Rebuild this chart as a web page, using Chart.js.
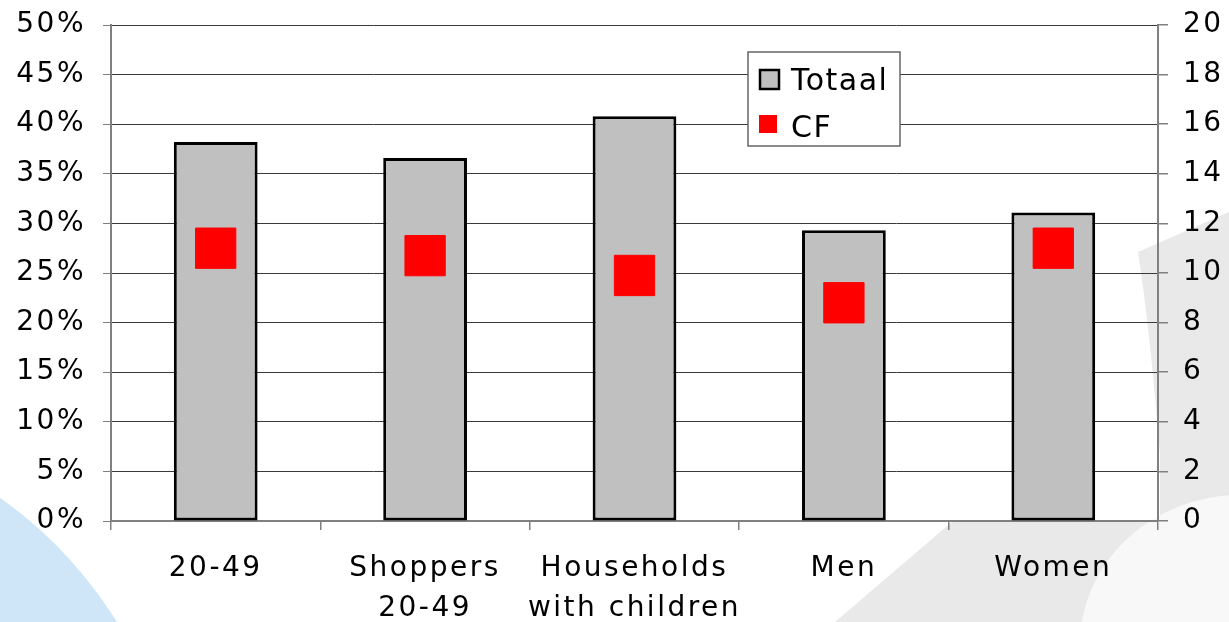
<!DOCTYPE html>
<html>
<head>
<meta charset="utf-8">
<script src="https://cdn.jsdelivr.net/npm/chart.js@4.4.1/dist/chart.umd.min.js"></script>
<style>
  html, body { margin: 0; padding: 0; background: #ffffff; }
  #wrap { width: 1229px; height: 622px; position: relative; }
</style>
</head>
<body>
<div id="wrap"><canvas id="chart" width="1229" height="622"></canvas></div>
<script>
// Categories (multi-line labels as arrays)
const categories = [['20-49'], ['Shoppers', '20-49'], ['Households', 'with children'], ['Men'], ['Women']];
// Share per group, in percent (left axis)
const totaal = [38.2, 36.6, 40.8, 29.3, 31.1];
// CF index per group (right axis)
const cf = [11.0, 10.7, 9.9, 8.8, 11.0];
// Axis ranges
const leftMax = 50, leftStep = 5;
const rightMax = 20, rightStep = 2;

const FONT = 'DejaVu Sans';
const SPACING = '2.5px';

// Wide letter spacing for all canvas text
const spacingPlugin = {
  id: 'spacing',
  beforeUpdate(chart) { chart.ctx.letterSpacing = SPACING; },
  beforeLayout(chart) { chart.ctx.letterSpacing = SPACING; },
  beforeDraw(chart) { chart.ctx.letterSpacing = SPACING; }
};

// Soft decorative shapes behind the chart
const backdrop = {
  id: 'backdrop',
  beforeDraw(chart) {
    const ctx = chart.ctx;
    ctx.save();
    ctx.fillStyle = '#cfe6f8';
    ctx.beginPath();
    ctx.arc(-250, 850, 432, 0, Math.PI * 2);
    ctx.fill();

    ctx.fillStyle = '#e9e9e9';
    ctx.beginPath();
    ctx.moveTo(835, 622);
    ctx.lineTo(953, 521);
    ctx.lineTo(1160, 521);
    ctx.lineTo(1160, 455);
    ctx.quadraticCurveTo(1150, 330, 1138, 252);
    ctx.lineTo(1229, 212);
    ctx.lineTo(1229, 622);
    ctx.closePath();
    ctx.fill();

    ctx.fillStyle = '#f8f8f8';
    ctx.beginPath();
    ctx.ellipse(1240, 645, 160, 150, 0, 0, Math.PI * 2);
    ctx.fill();
    ctx.restore();
  }
};

// Boxed legend inside the plot
const boxLegend = {
  id: 'boxLegend',
  afterDraw(chart) {
    const ctx = chart.ctx;
    const ca = chart.chartArea;
    const x = ca.left + 637, y = ca.top + 27, w = 152, h = 94;
    ctx.save();
    ctx.fillStyle = '#ffffff';
    ctx.fillRect(x, y, w, h);
    ctx.strokeStyle = '#666666';
    ctx.lineWidth = 1.5;
    ctx.strokeRect(x, y, w, h);

    ctx.font = '30px "' + FONT + '"';
    ctx.letterSpacing = '1.5px';
    ctx.textAlign = 'left';
    ctx.textBaseline = 'alphabetic';

    const bars = chart.data.datasets[1];
    const pts = chart.data.datasets[0];
    // Totaal swatch
    ctx.fillStyle = bars.backgroundColor;
    ctx.fillRect(x + 12, y + 18, 19, 19);
    ctx.strokeStyle = bars.borderColor;
    ctx.lineWidth = 2.5;
    ctx.strokeRect(x + 12, y + 18, 19, 19);
    ctx.fillStyle = '#000000';
    ctx.fillText(bars.label, x + 43, y + 38);
    // CF swatch
    ctx.fillStyle = pts.pointBackgroundColor;
    ctx.fillRect(x + 11, y + 63, 18, 18);
    ctx.fillStyle = '#000000';
    ctx.fillText(pts.label, x + 43, y + 85);
    ctx.restore();
  }
};

// Fixed axis boxes so the plot area sits where intended
function fixVertical(width) {
  return function (scale) {
    scale.width = width;
    scale.paddingTop = 0;
    scale.paddingBottom = 0;
  };
}

new Chart(document.getElementById('chart'), {
  type: 'bar',
  data: {
    labels: categories,
    datasets: [
      {
        type: 'line',
        label: 'CF',
        data: cf,
        yAxisID: 'y1',
        showLine: false,
        order: 0,
        pointStyle: 'rect',
        pointRadius: 28.5,
        pointHoverRadius: 28.5,
        pointBackgroundColor: '#ff0000',
        pointBorderColor: '#ff0000',
        pointBorderWidth: 1,
        borderColor: '#ff0000',
        backgroundColor: '#ff0000'
      },
      {
        type: 'bar',
        label: 'Totaal',
        data: totaal,
        yAxisID: 'y',
        order: 1,
        backgroundColor: '#c0c0c0',
        borderColor: '#000000',
        borderWidth: 3,
        borderSkipped: false,
        categoryPercentage: 1,
        barPercentage: 0.4
      }
    ]
  },
  options: {
    responsive: false,
    animation: false,
    devicePixelRatio: 1,
    layout: { autoPadding: false, padding: { top: 25, left: 0, right: 0, bottom: 0 } },
    plugins: {
      legend: { display: false },
      tooltip: { enabled: false }
    },
    scales: {
      x: {
        offset: true,
        grid: {
          offset: true,
          drawOnChartArea: false,
          drawTicks: true,
          tickLength: 9,
          color: '#808080',
          lineWidth: 1.5
        },
        border: { display: true, color: '#808080', width: 2 },
        ticks: {
          color: '#000000',
          font: { family: FONT, size: 28, lineHeight: 1.43 },
          padding: 19,
          maxRotation: 0,
          autoSkip: false
        },
        afterFit(scale) {
          scale.height = 101;
          scale.paddingLeft = 0;
          scale.paddingRight = 0;
        }
      },
      y: {
        position: 'left',
        min: 0,
        max: leftMax,
        grid: {
          color: '#3a3a3a',
          lineWidth: 1,
          drawTicks: true,
          tickLength: 8,
          tickColor: '#808080'
        },
        border: { display: true, color: '#808080', width: 2 },
        ticks: {
          stepSize: leftStep,
          color: '#000000',
          font: { family: FONT, size: 28 },
          padding: 17,
          callback: v => v + '%'
        },
        afterFit: fixVertical(111)
      },
      y1: {
        position: 'right',
        min: 0,
        max: rightMax,
        grid: {
          drawOnChartArea: false,
          drawTicks: true,
          tickLength: 10,
          color: '#808080',
          lineWidth: 1.5
        },
        border: { display: true, color: '#808080', width: 2 },
        ticks: {
          stepSize: rightStep,
          color: '#000000',
          font: { family: FONT, size: 28 },
          padding: 15
        },
        afterFit: fixVertical(71)
      }
    }
  },
  plugins: [spacingPlugin, backdrop, boxLegend]
});
</script>
</body>
</html>
